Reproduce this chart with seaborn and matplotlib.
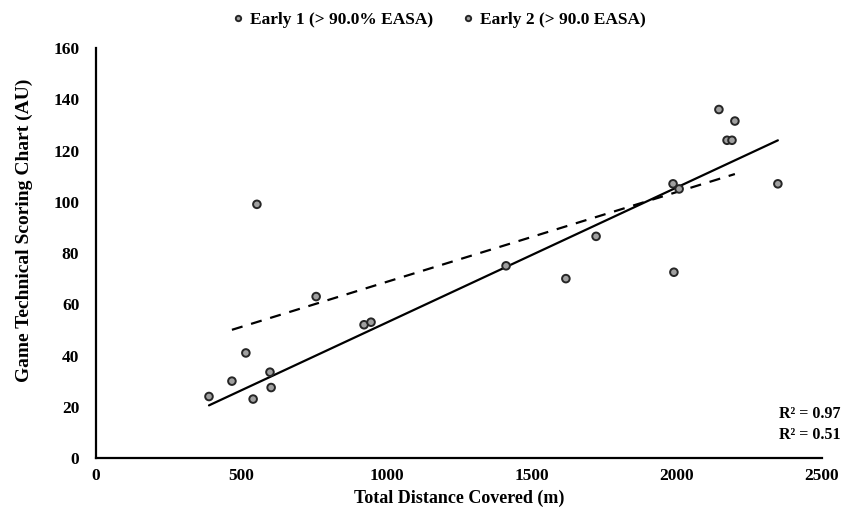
import numpy as np
import pandas as pd
import matplotlib
matplotlib.use("Agg")
import matplotlib.pyplot as plt
import seaborn as sns

# --- data ---
early1_dist = [389, 541, 603, 923, 947, 1412, 1722, 2008, 2173, 2190, 2348]
early1_score = [24, 23, 27.5, 52, 53, 75, 86.5, 105, 124, 124, 107]
early2_dist = [468, 516, 554, 599, 758, 1618, 1987, 1990, 2145, 2200]
early2_score = [30, 41, 99, 33.5, 63, 70, 107, 72.5, 136, 131.5]

series_names = ["Early 1 (> 90.0% EASA)", "Early 2 (> 90.0 EASA)"]
# linear trend lines (slope, intercept) and R² as shown on the chart
fit_slope = [0.0528, 0.0351]
fit_intercept = [0.0, 33.6]
fit_r2 = [0.97, 0.51]

df = pd.concat([
    pd.DataFrame({"dist": early1_dist, "score": early1_score, "group": series_names[0]}),
    pd.DataFrame({"dist": early2_dist, "score": early2_score, "group": series_names[1]}),
])

sns.set_style("white", {"text.color": "black", "axes.labelcolor": "black",
                        "xtick.color": "black", "ytick.color": "black"})
plt.rcParams["font.family"] = ["Liberation Serif", "DejaVu Serif"]
plt.rcParams["font.weight"] = "bold"

fig = plt.figure(figsize=(8.52, 5.13), dpi=100)
ax = fig.add_axes([0.1127, 0.1072, 0.8521, 0.7992])

sns.scatterplot(data=df, x="dist", y="score", hue="group",
                palette=["#a0a0a0", "#a0a0a0"], edgecolor="#262626",
                linewidth=1.4, s=30, ax=ax, zorder=3)

# trend lines
styles = ["-", (0, (5, 4))]
for xs, m, b, ls in zip([early1_dist, early2_dist], fit_slope, fit_intercept, styles):
    xx = np.array([min(xs), max(xs)])
    ax.plot(xx, m * xx + b, color="black", lw=1.6, linestyle=ls, zorder=2)

ax.set_xlim(0, 2500)
ax.set_ylim(0, 160)
ax.set_xticks(range(0, 2501, 500))
ax.set_yticks(range(0, 161, 20))
ax.tick_params(axis="x", length=0, labelsize=12.5, pad=7)
ax.tick_params(axis="y", length=0, labelsize=12.5, pad=12)
for lab in ax.get_xticklabels() + ax.get_yticklabels():
    lab.set_fontweight("bold")

for side in ["top", "right"]:
    ax.spines[side].set_visible(False)
for side in ["left", "bottom"]:
    ax.spines[side].set_color("black")
    ax.spines[side].set_linewidth(1.6)

ax.set_xlabel("Total Distance Covered (m)", fontsize=13, fontweight="bold", labelpad=4)
ax.set_ylabel("Game Technical Scoring Chart (AU)", fontsize=14, fontweight="bold")
ax.yaxis.set_label_coords(-0.087, 0.556)

# R² annotations
ax.text(1.025, 0.107, f"R² = {fit_r2[0]:.2f}", transform=ax.transAxes, ha="right",
        va="center", fontsize=11.5, fontweight="bold")
ax.text(1.025, 0.056, f"R² = {fit_r2[1]:.2f}", transform=ax.transAxes, ha="right",
        va="center", fontsize=11.5, fontweight="bold")

leg = ax.legend(loc="center", bbox_to_anchor=(0.472, 1.068), ncol=2, frameon=False,
                fontsize=12.5, handlelength=0.8, handletextpad=0.3,
                columnspacing=1.6, markerscale=0.7)
for t in leg.get_texts():
    t.set_fontweight("bold")

fig.savefig("out.png", dpi=100)
